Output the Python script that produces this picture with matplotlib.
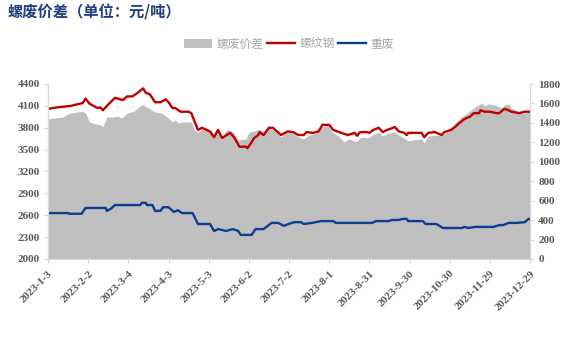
import matplotlib.pyplot as plt
import pandas as pd

plt.rcParams['font.family'] = ['Liberation Serif', 'Noto Sans CJK SC']

# 螺纹钢 (left axis)
rebar_dates = ['2023-01-03', '2023-01-10', '2023-01-20', '2023-01-29', '2023-01-31', '2023-02-03',
               '2023-02-09', '2023-02-11', '2023-02-13', '2023-02-17', '2023-02-22', '2023-02-28',
               '2023-03-03', '2023-03-07', '2023-03-11', '2023-03-15', '2023-03-17', '2023-03-20',
               '2023-03-24', '2023-03-28', '2023-04-01', '2023-04-03', '2023-04-06', '2023-04-08',
               '2023-04-12', '2023-04-18', '2023-04-20', '2023-04-25', '2023-04-28', '2023-05-04',
               '2023-05-07', '2023-05-10', '2023-05-13', '2023-05-19', '2023-05-22', '2023-05-26',
               '2023-05-31', '2023-06-01', '2023-06-04', '2023-06-06', '2023-06-09', '2023-06-10',
               '2023-06-13', '2023-06-17', '2023-06-20', '2023-06-26', '2023-07-01', '2023-07-05',
               '2023-07-09', '2023-07-13', '2023-07-15', '2023-07-20', '2023-07-24', '2023-07-27',
               '2023-08-01', '2023-08-04', '2023-08-10', '2023-08-15', '2023-08-20', '2023-08-22',
               '2023-08-24', '2023-08-29', '2023-08-31', '2023-09-03', '2023-09-07', '2023-09-10',
               '2023-09-13', '2023-09-15', '2023-09-19', '2023-09-22', '2023-09-26', '2023-09-28',
               '2023-09-29', '2023-10-09', '2023-10-11', '2023-10-14', '2023-10-19', '2023-10-24',
               '2023-10-26', '2023-10-31', '2023-11-03', '2023-11-06', '2023-11-10', '2023-11-14',
               '2023-11-17', '2023-11-21', '2023-11-22', '2023-11-25', '2023-11-29', '2023-12-04',
               '2023-12-06', '2023-12-10', '2023-12-13', '2023-12-15', '2023-12-21', '2023-12-25',
               '2023-12-29']
rebar_vals = [4060, 4080, 4100, 4140, 4200, 4130,
              4070, 4080, 4040, 4120, 4210, 4180,
              4230, 4230, 4280, 4340, 4280, 4260,
              4150, 4150, 4190, 4150, 4070, 4070,
              4020, 4020, 4000, 3770, 3800, 3750,
              3670, 3770, 3660, 3730, 3670, 3540,
              3540, 3520, 3600, 3660, 3700, 3740,
              3700, 3800, 3800, 3700, 3750, 3740,
              3700, 3700, 3740, 3730, 3750, 3840,
              3840, 3770, 3730, 3700, 3730, 3690,
              3740, 3740, 3730, 3770, 3800, 3740,
              3770, 3780, 3810, 3750, 3730, 3700,
              3730, 3730, 3670, 3730, 3740, 3700,
              3740, 3770, 3810, 3860, 3920, 3950,
              4000, 4000, 4040, 4020, 4020, 4000,
              4000, 4060, 4040, 4020, 4000, 4020,
              4020]

# 重废 (left axis)
scrap_dates = ['2023-01-03', '2023-01-18', '2023-01-19', '2023-01-28', '2023-01-31', '2023-02-15',
               '2023-02-16', '2023-02-19', '2023-02-22', '2023-03-13', '2023-03-14', '2023-03-17',
               '2023-03-18', '2023-03-22', '2023-03-24', '2023-03-28', '2023-03-30', '2023-04-03',
               '2023-04-07', '2023-04-10', '2023-04-13', '2023-04-21', '2023-04-25', '2023-05-04',
               '2023-05-07', '2023-05-10', '2023-05-16', '2023-05-21', '2023-05-25', '2023-05-27',
               '2023-06-04', '2023-06-07', '2023-06-13', '2023-06-19', '2023-06-24', '2023-06-28',
               '2023-07-04', '2023-07-06', '2023-07-11', '2023-07-13', '2023-07-19', '2023-07-26',
               '2023-08-04', '2023-08-06', '2023-09-02', '2023-09-05', '2023-09-14', '2023-09-17',
               '2023-09-22', '2023-09-25', '2023-09-28', '2023-09-29', '2023-10-10', '2023-10-12',
               '2023-10-20', '2023-10-25', '2023-11-08', '2023-11-10', '2023-11-13', '2023-11-18',
               '2023-12-02', '2023-12-06', '2023-12-09', '2023-12-13', '2023-12-19', '2023-12-25',
               '2023-12-28', '2023-12-29']
scrap_vals = [2630, 2630, 2620, 2620, 2700, 2700,
              2660, 2690, 2740, 2740, 2770, 2770,
              2740, 2740, 2660, 2660, 2710, 2710,
              2645, 2670, 2630, 2630, 2480, 2480,
              2385, 2410, 2385, 2410, 2385, 2330,
              2330, 2410, 2410, 2495, 2495, 2455,
              2495, 2505, 2505, 2480, 2495, 2520,
              2520, 2495, 2495, 2520, 2520, 2535,
              2535, 2550, 2550, 2520, 2520, 2480,
              2480, 2425, 2425, 2440, 2425, 2440,
              2440, 2465, 2465, 2495, 2495, 2505,
              2550, 2550]

# 螺废价差 (right axis)
spread_dates = ['2023-01-03', '2023-01-14', '2023-01-19', '2023-01-29', '2023-01-31', '2023-02-03',
                '2023-02-07', '2023-02-11', '2023-02-13', '2023-02-16', '2023-02-20', '2023-02-24',
                '2023-02-27', '2023-03-03', '2023-03-08', '2023-03-13', '2023-03-15', '2023-03-19',
                '2023-03-24', '2023-03-29', '2023-04-02', '2023-04-06', '2023-04-08', '2023-04-10',
                '2023-04-14', '2023-04-20', '2023-04-22', '2023-04-25', '2023-04-28', '2023-05-03',
                '2023-05-07', '2023-05-10', '2023-05-13', '2023-05-17', '2023-05-21', '2023-05-25',
                '2023-05-31', '2023-06-02', '2023-06-06', '2023-06-10', '2023-06-13', '2023-06-17',
                '2023-06-21', '2023-06-26', '2023-06-30', '2023-07-04', '2023-07-09', '2023-07-13',
                '2023-07-17', '2023-07-22', '2023-07-26', '2023-07-31', '2023-08-03', '2023-08-08',
                '2023-08-12', '2023-08-16', '2023-08-21', '2023-08-25', '2023-08-30', '2023-09-02',
                '2023-09-07', '2023-09-10', '2023-09-14', '2023-09-19', '2023-09-22', '2023-09-26',
                '2023-09-29', '2023-10-03', '2023-10-09', '2023-10-11', '2023-10-14', '2023-10-24',
                '2023-10-29', '2023-11-03', '2023-11-08', '2023-11-12', '2023-11-15', '2023-11-18',
                '2023-11-21', '2023-11-23', '2023-11-25', '2023-11-28', '2023-12-03', '2023-12-06',
                '2023-12-08', '2023-12-10', '2023-12-13', '2023-12-15', '2023-12-21', '2023-12-25',
                '2023-12-29']
spread_vals = [1440, 1460, 1500, 1520, 1500, 1410,
               1390, 1380, 1360, 1460, 1460, 1470,
               1450, 1500, 1520, 1575, 1585, 1555,
               1510, 1500, 1460, 1410, 1430, 1400,
               1410, 1410, 1330, 1305, 1335, 1315,
               1275, 1345, 1255, 1335, 1305, 1225,
               1235, 1305, 1315, 1335, 1305, 1345,
               1325, 1255, 1305, 1295, 1255, 1235,
               1275, 1295, 1355, 1375, 1305, 1265,
               1205, 1235, 1205, 1255, 1245, 1275,
               1305, 1265, 1295, 1305, 1275, 1245,
               1215, 1225, 1235, 1195, 1265, 1275,
               1305, 1400, 1460, 1500, 1530, 1565,
               1585, 1605, 1575, 1595, 1585, 1565,
               1555, 1585, 1595, 1555, 1510, 1500,
               1510]

tick_dates = pd.date_range('2023-01-03', periods=13, freq='30D')
tick_labels = [f'{d.year}-{d.month}-{d.day}' for d in tick_dates]

title = '螺废价差（单位：元/吨）'
tick_color = '#595959'
spine_color = '#d9d9d9'

fig = plt.figure(figsize=(5.79, 3.54), dpi=100)
ax = fig.add_axes([48 / 579, 1 - 259 / 354, (530 - 48) / 579, (259 - 84) / 354])
ax2 = ax.twinx()
ax.set_zorder(ax2.get_zorder() + 1)
ax.patch.set_visible(False)

area = ax2.fill_between(pd.to_datetime(spread_dates), 0, spread_vals, color='#bfbfbf', lw=0, label='螺废价差')
l1, = ax.plot(pd.to_datetime(rebar_dates), rebar_vals, color='#c00000', lw=1.7, label='螺纹钢')
l2, = ax.plot(pd.to_datetime(scrap_dates), scrap_vals, color='#0b3d91', lw=1.7, label='重废')

ax.set_xlim(pd.Timestamp('2023-01-03'), pd.Timestamp('2023-12-29'))
ax.set_ylim(2000, 4400)
ax.set_yticks(range(2000, 4401, 300))
ax2.set_ylim(0, 1800)
ax2.set_yticks(range(0, 1801, 200))
ax.set_xticks(tick_dates)
ax.set_xticklabels(tick_labels, rotation=45, ha='right', rotation_mode='anchor')

for a in (ax, ax2):
    for s in a.spines.values():
        s.set_color(spine_color)
    a.spines['top'].set_visible(False)
    a.tick_params(colors=spine_color, labelcolor=tick_color, labelsize=8, length=3, width=0.8, pad=3)
    for lab in a.get_xticklabels() + a.get_yticklabels():
        lab.set_fontweight('bold')
ax.tick_params(axis='x', pad=4)

fig.text(8 / 579, 1 - 12 / 354, title, fontsize=11, fontweight='bold', color='#203f7f',
         family=['Noto Sans CJK SC'], va='center', ha='left')

leg = fig.legend([area, l1, l2], ['螺废价差', '螺纹钢', '重废'], loc='center', ncol=3,
                 bbox_to_anchor=(289 / 579, 1 - 44 / 354), frameon=False, handlelength=2.4,
                 handletextpad=0.35, columnspacing=0.3, prop={'family': 'Noto Sans CJK SC', 'size': 8.5})
for t in leg.get_texts():
    t.set_color('#a6a6a6')

fig.savefig('out.png', dpi=100)
